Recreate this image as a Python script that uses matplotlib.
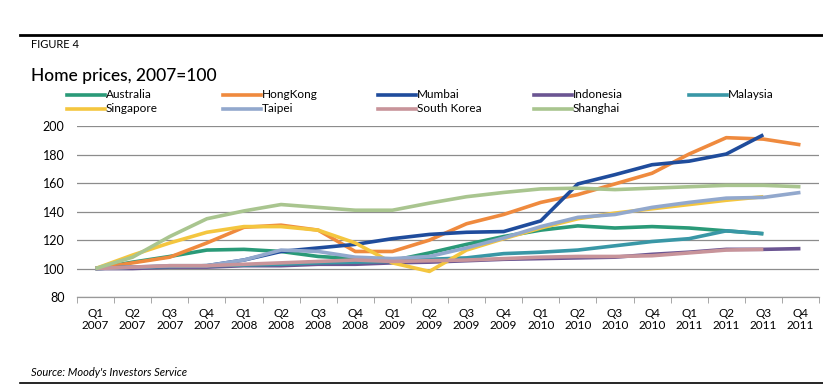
import numpy as np
import matplotlib.pyplot as plt
from matplotlib.lines import Line2D

# quarters Q1 2007 .. Q4 2011
quarters = ["Q1", "Q2", "Q3", "Q4"] * 5
years = [y for y in ["2007", "2008", "2009", "2010", "2011"] for _ in range(4)]
tick_labels = [q + "\n" + y for q, y in zip(quarters, years)]

australia = [100, 104.5, 108.5, 113, 113.5, 112, 108.5, 107, 105.5, 111, 117, 122.5, 127, 130, 128.5, 129.5, 128.5, 126.5, 124.5]
hongkong = [100, 104, 108, 118, 129, 130.5, 127, 112, 112, 120, 131.5, 138, 146.5, 152, 159.5, 167, 180.5, 192, 191, 187]
mumbai = [100, 101, 101.5, 102, 106, 112, 114.5, 117, 121, 124, 125.5, 126, 133.5, 159.5, 166, 173, 175.5, 180.5, 194]
indonesia = [100, 100, 101, 101, 102, 102, 103, 103, 104, 104.5, 105.5, 106.5, 107, 107.5, 108, 110, 111.5, 113.5, 113.5, 114]
malaysia = [100, 101, 101.5, 102, 102.5, 103, 104, 104.5, 105, 106.5, 107.5, 110.5, 111.5, 113, 116, 119, 121, 126.5, 124.5]
singapore = [100, 109.5, 118, 125.5, 129.5, 129.5, 127, 118, 104, 98, 113, 121, 128.5, 135, 139, 142, 145, 148, 150.5]
taipei = [100, 101, 102, 102, 106, 113, 112, 108, 107, 108.5, 114.5, 121.5, 129.5, 136, 138, 143, 146.5, 149.5, 150, 153.5]
southkorea = [100, 101, 102, 102, 103, 104, 105, 106, 105, 105.5, 106, 107, 108, 108.5, 108.5, 109, 111, 113, 113.5]
shanghai = [100, 108, 122.5, 135, 140.5, 145, 143, 141, 141, 146, 150.5, 153.5, 156, 156.5, 155.5, 156.5, 157.5, 158.5, 158.5, 157.5]

series = [
    ("Australia", australia, "#2a9a78"),
    ("HongKong", hongkong, "#ef8a3e"),
    ("Mumbai", mumbai, "#1f4c9c"),
    ("Indonesia", indonesia, "#6b5592"),
    ("Malaysia", malaysia, "#3997a6"),
    ("Singapore", singapore, "#f4c63f"),
    ("Taipei", taipei, "#92a8cd"),
    ("South Korea", southkorea, "#c8949a"),
    ("Shanghai", shanghai, "#a9c58f"),
]

plt.rcParams['font.family'] = ['Lato', 'DejaVu Sans']

fig = plt.figure(figsize=(8.23, 3.90), dpi=100)
ax = fig.add_axes([77 / 823, 93 / 390, 742 / 823, 170.7 / 390])

# series order = drawing order (later ones on top)
for name, vals, col in series:
    ax.plot(np.arange(len(vals)), vals, color=col, lw=2.6,
            solid_capstyle="butt", solid_joinstyle="round")

ax.set_xlim(-0.5, 19.5)
ax.set_ylim(80, 200)
ax.set_yticks(range(80, 201, 20))
ax.set_xticks(range(20))
ax.set_xticklabels(tick_labels, fontsize=8.5, linespacing=1.1)
ax.set_xticks(np.arange(-0.5, 20, 1), minor=True)
ax.tick_params(axis="x", which="major", length=0, pad=8)
ax.tick_params(axis="x", which="minor", length=4, color="#999999", direction="out")
ax.tick_params(axis="y", length=0, labelsize=9, pad=9)
ax.grid(axis="y", color="#8c8c8c", lw=0.9)
ax.set_axisbelow(True)
for s in ["top", "right", "left"]:
    ax.spines[s].set_visible(False)
ax.spines["bottom"].set_color("#999999")
ax.spines["bottom"].set_linewidth(0.9)

# header / footer
fig.add_artist(Line2D([20 / 823, 1], [1 - 35 / 390] * 2, color="black", lw=2))
fig.text(31 / 823, 1 - 44 / 390, "FIGURE 4", fontsize=8, va="center")
fig.text(31 / 823, 1 - 76 / 390, "Home prices, 2007=100", fontsize=12.5,
         fontweight="medium", va="center")
fig.text(31 / 823, 1 - 372 / 390, "Source: Moody's Investors Service", fontsize=8,
         style="italic", va="center")
fig.add_artist(Line2D([20 / 823, 1], [1 - 383 / 390] * 2, color="black", lw=1.2))

# legend, two rows
for i, (name, vals, col) in enumerate(series):
    row, c = divmod(i, 5)
    x0 = 67 + 155.5 * c
    y = 1 - (95 + 14 * row) / 390
    fig.add_artist(Line2D([x0 / 823, (x0 + 38) / 823], [y, y], color=col, lw=2.6))
    fig.text((x0 + 39) / 823, y, name, fontsize=8.5, va="center")

fig.savefig("out.png", dpi=100)
